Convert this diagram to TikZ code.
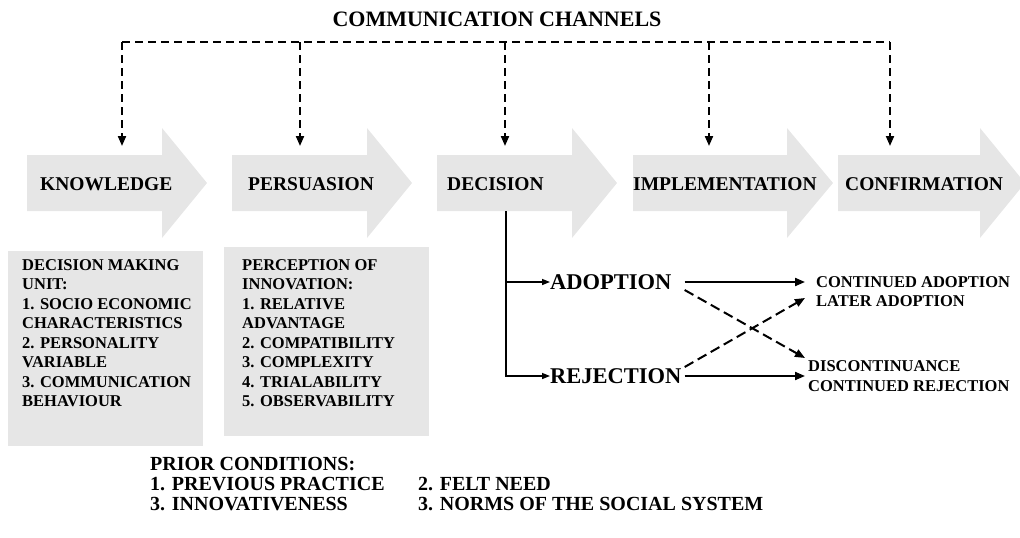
\documentclass[tikz,border=0pt]{standalone}
\usepackage{fontspec}
\setmainfont{Liberation Serif}
\usetikzlibrary{arrows.meta}

\definecolor{stagegray}{RGB}{230,230,230}

\tikzset{
  stage/.style={fill=stagegray},
  phase/.style={font=\fontsize{19.5}{23}\selectfont\bfseries,anchor=base west,inner sep=0},
  listtext/.style={font=\fontsize{16.5}{19.5}\selectfont\bfseries,anchor=north west,align=left,inner sep=0},
  choice/.style={font=\fontsize{22.5}{26}\selectfont\bfseries,anchor=west,inner sep=0},
  outcome/.style={font=\fontsize{16.5}{20}\selectfont\bfseries,anchor=west,inner sep=0},
  prior/.style={font=\fontsize{20}{24}\selectfont\bfseries,anchor=base west,inner sep=0},
  chan/.style={line width=2pt,dash pattern=on 8pt off 5pt},
  branch/.style={line width=1.4pt,-{Triangle[length=8pt,width=6pt]}},
  result/.style={line width=2pt,-{Triangle[length=10pt,width=8pt]}},
}

\begin{document}
\begin{tikzpicture}[x=1pt,y=-1pt]
\useasboundingbox (0,0) rectangle (1020,538);
\clip (0,0) rectangle (1020,538);

% stages
\foreach \l/\h/\t in {27/162/207,232/367/412,437/572/617,633/787/833,838/980/1025}
  \fill[stage] (\l,155) -- (\h,155) -- (\h,128) -- (\t,183) -- (\h,238) -- (\h,211) -- (\l,211) -- cycle;

\node[phase] (know) at (40,190) {KNOWLEDGE};
\node[phase] (pers) at (248,190) {PERSUASION};
\node[phase] (deci) at (447,190) {DECISION};
\node[phase] (impl) at (633,190) {IMPLEMENTATION};
\node[phase] (conf) at (845,190) {CONFIRMATION};

% communication channels
\node[font=\fontsize{22}{26}\selectfont\bfseries,anchor=base,inner sep=0] (title) at (497,26) {COMMUNICATION CHANNELS};

\foreach \i/\x in {1/122,2/300,3/505,4/709,5/890} {
  \coordinate (t\i) at (\x,42);
  \coordinate (d\i) at (\x,146);
}
\draw[chan] (t1) -- (t5);
\foreach \i in {1,...,5}
  \draw[chan,-{Triangle[length=10pt,width=8pt]}] (t\i) -- (d\i);

% boxes under knowledge and persuasion
\fill[stage] (8,251) rectangle (203,446);
\fill[stage] (224,247) rectangle (429,436);

\node[listtext] (unit) at (22,259) {DECISION MAKING\\UNIT:\\1. SOCIO ECONOMIC\\CHARACTERISTICS\\2. PERSONALITY\\VARIABLE\\3. COMMUNICATION\\BEHAVIOUR};
\node[listtext] (perc) at (242,259) {PERCEPTION OF\\INNOVATION:\\1. RELATIVE\\ADVANTAGE\\2. COMPATIBILITY\\3. COMPLEXITY\\4. TRIALABILITY\\5. OBSERVABILITY};

% decision
\node[choice] (adopt) at (550,282) {ADOPTION};
\node[choice] (rej) at (550,376) {REJECTION};
\coordinate (dtop) at (506,211);
\draw[branch] (dtop) |- (rej.west);
\draw[branch] (dtop |- adopt.west) -- (adopt.west);

\node[outcome] (cont) at (816,282) {CONTINUED ADOPTION};
\node[outcome] (later) at (816,301) {LATER ADOPTION};
\node[outcome] (disc) at (808,366) {DISCONTINUANCE};
\node[outcome] (contrej) at (808,386) {CONTINUED REJECTION};

\draw[result] ([xshift=13pt]adopt.east) -- ([xshift=-11pt]cont.west);
\draw[result] ([xshift=3pt]rej.east) -- ([xshift=-3pt,yshift=-10pt]disc.west);
\draw[result,dash pattern=on 10pt off 5pt] ([xshift=13pt,yshift=-8pt]adopt.east) -- ([xshift=-3pt,yshift=8pt]disc.west);
\draw[result,dash pattern=on 10pt off 5pt] ([xshift=3pt,yshift=9pt]rej.east) -- ([xshift=-11pt,yshift=3pt]later.west);

% prior conditions
\node[prior] (cond) at (150,470) {PRIOR CONDITIONS:};
\node[prior] (c1) at (150,490) {1. PREVIOUS PRACTICE};
\node[prior] (c2) at (418,490) {2. FELT NEED};
\node[prior] (c3) at (150,510) {3. INNOVATIVENESS};
\node[prior] (c4) at (418,510) {3. NORMS OF THE SOCIAL SYSTEM};

\end{tikzpicture}
\end{document}
